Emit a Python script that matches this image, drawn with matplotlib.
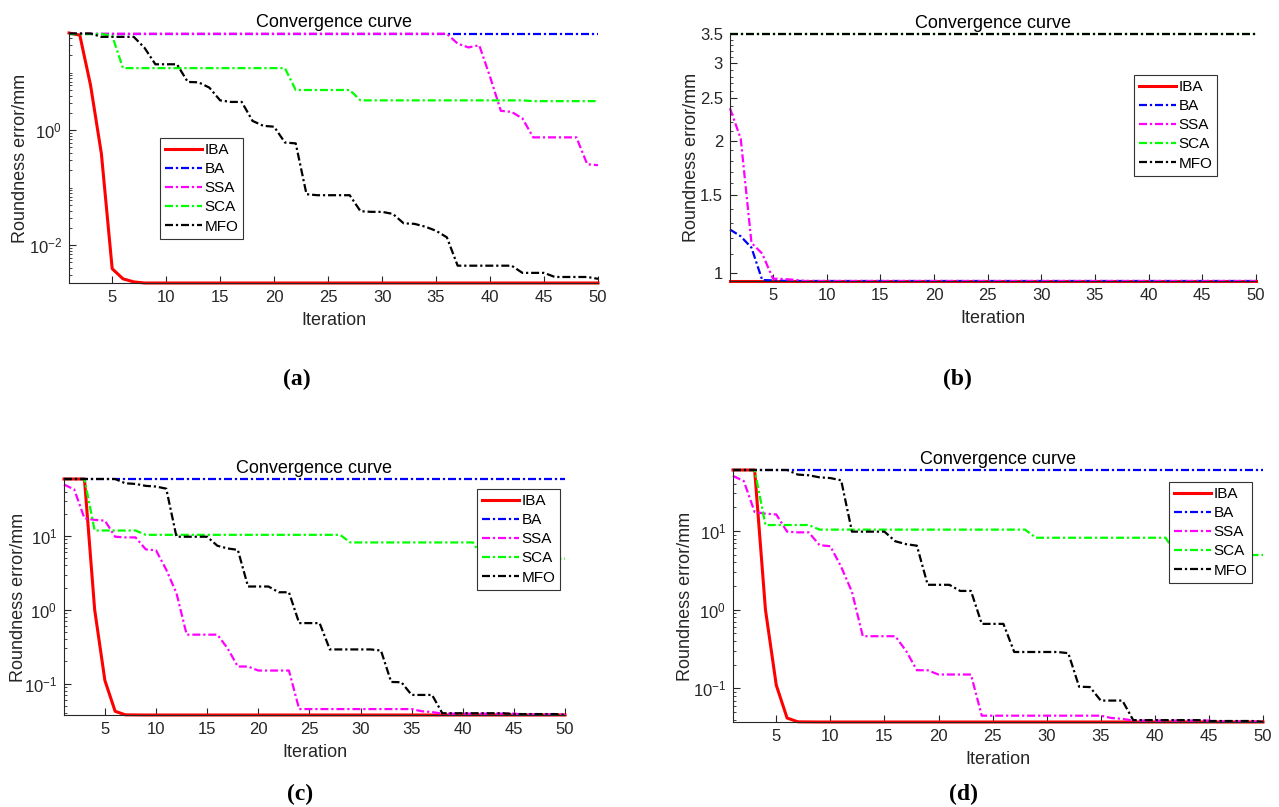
import matplotlib.pyplot as plt
from matplotlib.ticker import FixedLocator, FixedFormatter, NullFormatter

plt.rcParams['font.family'] = ['Liberation Sans', 'DejaVu Sans']
plt.rcParams['mathtext.default'] = 'regular'
plt.rcParams['axes.unicode_minus'] = False

iterations = list(range(1, 51))
labels = ['IBA', 'BA', 'SSA', 'SCA', 'MFO']
colors = ['#ff0000', '#0000ff', '#ff00ff', '#00ff00', '#000000']

# (a)
iba_a = [49, 45, 6.0, 0.39, 0.0039, 0.0026, 0.0023, 0.0022, 0.0022, 0.0022,
         0.0022, 0.0022, 0.0022, 0.0022, 0.0022, 0.0022, 0.0022, 0.0022, 0.0022, 0.0022,
         0.0022, 0.0022, 0.0022, 0.0022, 0.0022, 0.0022, 0.0022, 0.0022, 0.0022, 0.0022,
         0.0022, 0.0022, 0.0022, 0.0022, 0.0022, 0.0022, 0.0022, 0.0022, 0.0022, 0.0022,
         0.0022, 0.0022, 0.0022, 0.0022, 0.0022, 0.0022, 0.0022, 0.0022, 0.0022, 0.0022]
ba_a = [47.5] * 50
ssa_a = [47.5, 47.5, 47.5, 47.5, 47.5, 47.5, 47.5, 47.5, 47.5, 47.5,
         47.5, 47.5, 47.5, 47.5, 47.5, 47.5, 47.5, 47.5, 47.5, 47.5,
         47.5, 47.5, 47.5, 47.5, 47.5, 47.5, 47.5, 47.5, 47.5, 47.5,
         47.5, 47.5, 47.5, 47.5, 47.5, 47.5, 32, 27.5, 30, 8.5,
         2.17, 2.08, 1.6, 0.75, 0.75, 0.75, 0.75, 0.75, 0.256, 0.246]
sca_a = [47, 47, 47, 47, 44, 12, 12, 12, 12, 12,
         12, 12, 12, 12, 12, 12, 12, 12, 12, 12,
         12, 5.0, 5.0, 5.0, 5.0, 5.0, 5.0, 3.3, 3.3, 3.3,
         3.3, 3.3, 3.3, 3.3, 3.3, 3.3, 3.3, 3.3, 3.3, 3.3,
         3.3, 3.3, 3.3, 3.2, 3.2, 3.2, 3.2, 3.2, 3.2, 3.2]
mfo_a = [48, 48, 48, 42, 42, 42, 42, 27, 14, 14,
         14, 6.9, 6.8, 5.5, 3.3, 3.1, 3.1, 1.45, 1.19, 1.15,
         0.61, 0.59, 0.077, 0.074, 0.074, 0.074, 0.074, 0.039, 0.038, 0.038,
         0.035, 0.024, 0.0235, 0.021, 0.0178, 0.0137, 0.0044, 0.0044, 0.0044, 0.0044,
         0.0044, 0.0044, 0.0033, 0.0033, 0.0033, 0.0028, 0.0028, 0.0028, 0.0028, 0.0026]

# (b)
iba_b = [0.957] * 50
ba_b = [1.254, 1.21, 1.14, 0.962, 0.96, 0.958, 0.957, 0.957, 0.957, 0.957,
        0.957, 0.957, 0.957, 0.957, 0.957, 0.957, 0.957, 0.957, 0.957, 0.957,
        0.957, 0.957, 0.957, 0.957, 0.957, 0.957, 0.957, 0.957, 0.957, 0.957,
        0.957, 0.957, 0.957, 0.957, 0.957, 0.957, 0.957, 0.957, 0.957, 0.957,
        0.957, 0.957, 0.957, 0.957, 0.957, 0.957, 0.957, 0.957, 0.957, 0.957]
ssa_b = [2.37, 2.02, 1.169, 1.105, 0.969, 0.967, 0.963, 0.957, 0.957, 0.957,
         0.957, 0.957, 0.957, 0.957, 0.957, 0.957, 0.957, 0.957, 0.957, 0.957,
         0.957, 0.957, 0.957, 0.957, 0.957, 0.957, 0.957, 0.957, 0.957, 0.957,
         0.957, 0.957, 0.957, 0.957, 0.957, 0.957, 0.957, 0.957, 0.957, 0.957,
         0.957, 0.957, 0.957, 0.957, 0.957, 0.957, 0.957, 0.957, 0.957, 0.957]
sca_b = [3.5] * 50
mfo_b = [3.5] * 50

# (c) and (d) show the same run
iba_c = [59.5, 59.5, 59.5, 1.0, 0.11, 0.042, 0.0376, 0.0375, 0.0374, 0.0374,
         0.0374, 0.0374, 0.0374, 0.0374, 0.0374, 0.0374, 0.0374, 0.0374, 0.0374, 0.0374,
         0.0374, 0.0374, 0.0374, 0.0374, 0.0374, 0.0374, 0.0374, 0.0374, 0.0374, 0.0374,
         0.0374, 0.0374, 0.0374, 0.0374, 0.0374, 0.0374, 0.0374, 0.0374, 0.0374, 0.0374,
         0.0374, 0.0374, 0.0374, 0.0374, 0.0374, 0.0374, 0.0374, 0.0374, 0.0374, 0.0374]
ba_c = [59.5] * 50
ssa_c = [50, 43, 17.4, 16.6, 16.2, 9.8, 9.6, 9.6, 6.6, 6.4,
         3.5, 1.68, 0.46, 0.46, 0.46, 0.46, 0.30, 0.17, 0.17, 0.15,
         0.15, 0.15, 0.15, 0.045, 0.045, 0.045, 0.045, 0.045, 0.045, 0.045,
         0.045, 0.045, 0.045, 0.045, 0.045, 0.042, 0.041, 0.039, 0.039, 0.039,
         0.039, 0.039, 0.039, 0.039, 0.039, 0.038, 0.038, 0.038, 0.038, 0.0375]
sca_c = [59.5, 59.5, 59.5, 11.9, 11.9, 11.9, 11.9, 11.9, 10.4, 10.4,
         10.4, 10.4, 10.4, 10.4, 10.4, 10.4, 10.4, 10.4, 10.4, 10.4,
         10.4, 10.4, 10.4, 10.4, 10.4, 10.4, 10.4, 10.4, 8.2, 8.2,
         8.2, 8.2, 8.2, 8.2, 8.2, 8.2, 8.2, 8.2, 8.2, 8.2,
         8.2, 4.95, 4.95, 4.95, 4.95, 4.95, 4.95, 4.95, 4.95, 4.95]
mfo_c = [59.5, 59.5, 59.5, 59.5, 59.5, 59.5, 52, 51, 48, 47,
         44, 9.8, 9.8, 9.8, 9.8, 7.4, 6.8, 6.5, 2.07, 2.07,
         2.07, 1.73, 1.73, 0.66, 0.66, 0.66, 0.29, 0.29, 0.29, 0.29,
         0.29, 0.28, 0.105, 0.104, 0.07, 0.07, 0.07, 0.0395, 0.0395, 0.0395,
         0.0395, 0.0395, 0.0395, 0.0395, 0.0385, 0.0385, 0.0385, 0.0385, 0.0385, 0.0376]

W, H = 1279, 807
TXT = '#262626'
DASHDOT = (0, (3.6, 1.3, 1.0, 1.3))


def log_minor(lo, hi, skip):
    ticks = []
    for e in range(-4, 3):
        for k in range(1, 10):
            v = k * 10.0 ** e
            if lo <= v <= hi and not any(abs(v - s) < 1e-12 for s in skip):
                ticks.append(v)
    return ticks


def draw_panel(fig, box, series, major, major_labels, minor, legend_xy,
               ylabel_x, letter, letter_xy):
    l, t, r, b = box
    ax = fig.add_axes([l / W, 1 - b / H, (r - l) / W, (b - t) / H])
    for i, (ys, lab, c) in enumerate(zip(series, labels, colors)):
        if i == 0:
            ax.plot(iterations, ys, color=c, lw=2.2, label=lab, clip_on=False)
        else:
            ax.plot(iterations, ys, color=c, lw=1.6, ls=DASHDOT, label=lab,
                    clip_on=False)
    ax.set_yscale('log')
    ax.set_xlim(1, 50)
    ax.set_ylim(min(min(s) for s in series), max(max(s) for s in series))
    ax.set_xticks(range(5, 51, 5))
    ax.yaxis.set_major_locator(FixedLocator(major))
    ax.yaxis.set_major_formatter(FixedFormatter(major_labels))
    ax.yaxis.set_minor_locator(FixedLocator(minor))
    ax.yaxis.set_minor_formatter(NullFormatter())

    for side in ['top', 'right']:
        ax.spines[side].set_visible(False)
    for side in ['left', 'bottom']:
        ax.spines[side].set_color(TXT)
        ax.spines[side].set_linewidth(0.8)
    ax.tick_params(which='major', direction='in', length=5, width=0.8,
                   color=TXT, labelcolor=TXT, labelsize=12, pad=5)
    ax.tick_params(which='minor', direction='in', length=2.5, width=0.6,
                   color=TXT)

    ax.set_title('Convergence curve', fontsize=13, pad=4.5)
    ax.set_xlabel('Iteration', fontsize=13, color=TXT)
    ax.xaxis.set_label_coords(0.5, -29 / (b - t))
    ax.set_ylabel('Roundness error/mm', fontsize=13, color=TXT)
    ax.yaxis.set_label_coords((ylabel_x - l) / (r - l), 0.5)

    leg = ax.legend(loc='upper left', bbox_to_anchor=(legend_xy[0] / W, 1 - legend_xy[1] / H),
                    bbox_transform=fig.transFigure, fontsize=11, fancybox=False,
                    framealpha=1, edgecolor='#333333', handlelength=2.4,
                    handletextpad=0.2, labelspacing=0.34, borderpad=0.32,
                    borderaxespad=0)
    leg.get_frame().set_linewidth(0.8)

    fig.text(letter_xy[0] / W, 1 - letter_xy[1] / H, letter, ha='center', va='center',
             fontsize=17, fontweight='bold', family='Liberation Serif')
    return ax


fig = plt.figure(figsize=(W / 100, H / 100), dpi=100)

major_a = [1e-2, 1e0]
draw_panel(fig, (69, 33, 598, 283), [iba_a, ba_a, ssa_a, sca_a, mfo_a],
           major_a, ['$10^{-2}$', '$10^{0}$'],
           log_minor(min(iba_a), 49, major_a), (160, 138), 29, '(a)', (297, 379))

major_b = [1, 1.5, 2, 2.5, 3, 3.5]
minor_b = [v / 10 for v in range(10, 36) if v % 5 != 0]
draw_panel(fig, (730, 34, 1256, 281), [iba_b, ba_b, ssa_b, sca_b, mfo_b],
           major_b, ['1', '1.5', '2', '2.5', '3', '3.5'],
           minor_b, (1134, 75), 700, '(b)', (957, 379))

major_c = [1e-1, 1e0, 1e1]
labels_c = ['$10^{-1}$', '$10^{0}$', '$10^{1}$']
draw_panel(fig, (64, 479, 565, 715), [iba_c, ba_c, ssa_c, sca_c, mfo_c],
           major_c, labels_c, log_minor(0.0374, 59.5, major_c),
           (477, 489), 27, '(c)', (300, 794))
draw_panel(fig, (733, 470, 1263, 722), [iba_c, ba_c, ssa_c, sca_c, mfo_c],
           major_c, labels_c, log_minor(0.0374, 59.5, major_c),
           (1169, 482), 694, '(d)', (963, 794))

fig.savefig('out.png', dpi=100, facecolor='white')
